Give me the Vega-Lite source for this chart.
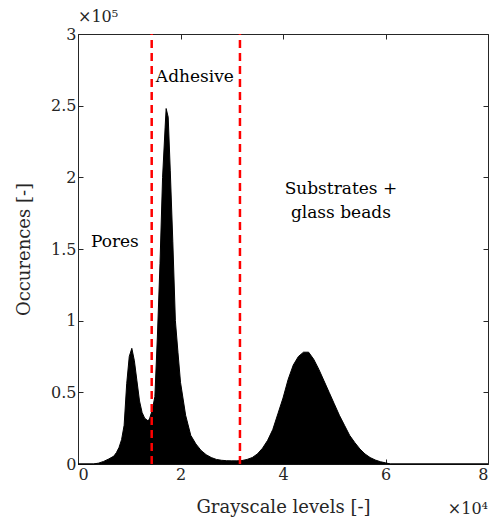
{
  "$schema": "https://vega.github.io/schema/vega-lite/v6.json",
  "width": 410,
  "height": 430,
  "autosize": "none",
  "padding": {"left": 78, "top": 34, "right": 2, "bottom": 59},
  "background": "white",
  "config": {
    "view": {"stroke": null},
    "font": "DejaVu Serif",
    "text": {"font": "DejaVu Serif"},
    "axis": {
      "grid": false,
      "domainColor": "#262626",
      "tickColor": "#262626",
      "labelColor": "#262626",
      "titleColor": "#262626",
      "labelFont": "DejaVu Serif",
      "titleFont": "DejaVu Serif",
      "labelFontSize": 16,
      "titleFontSize": 18,
      "titleFontWeight": "normal",
      "tickSize": -5,
      "labelPadding": 7
    }
  },
  "datasets": {
    "hist": [
      {"g": 0, "n": 0}, {"g": 3000, "n": 0}, {"g": 4000, "n": 600}, {"g": 5000, "n": 1800},
      {"g": 6000, "n": 3500}, {"g": 7000, "n": 5500}, {"g": 7500, "n": 8000}, {"g": 8000, "n": 11500},
      {"g": 8500, "n": 17000}, {"g": 9000, "n": 27000}, {"g": 9500, "n": 56000}, {"g": 10000, "n": 75000},
      {"g": 10500, "n": 80700}, {"g": 11000, "n": 72000}, {"g": 11500, "n": 58000}, {"g": 12000, "n": 44000},
      {"g": 12500, "n": 36000}, {"g": 13000, "n": 32000}, {"g": 13700, "n": 30000}, {"g": 14000, "n": 32000},
      {"g": 14500, "n": 38000}, {"g": 15000, "n": 47000}, {"g": 15500, "n": 90000}, {"g": 16000, "n": 140000},
      {"g": 16500, "n": 200000}, {"g": 17000, "n": 235000}, {"g": 17200, "n": 248000}, {"g": 17600, "n": 242000},
      {"g": 18000, "n": 205000}, {"g": 18500, "n": 155000}, {"g": 19000, "n": 100000}, {"g": 19500, "n": 78000},
      {"g": 20000, "n": 57000}, {"g": 21000, "n": 34000}, {"g": 22000, "n": 20000}, {"g": 23000, "n": 14000},
      {"g": 24000, "n": 9500}, {"g": 25000, "n": 6500}, {"g": 26000, "n": 4500}, {"g": 27000, "n": 3200},
      {"g": 28000, "n": 2600}, {"g": 29000, "n": 2300}, {"g": 30000, "n": 2200}, {"g": 31000, "n": 2200},
      {"g": 32000, "n": 2400}, {"g": 33000, "n": 3200}, {"g": 34000, "n": 4500}, {"g": 35000, "n": 7000},
      {"g": 36000, "n": 11000}, {"g": 37000, "n": 16500}, {"g": 38000, "n": 24000}, {"g": 39000, "n": 35000},
      {"g": 40000, "n": 46000}, {"g": 41000, "n": 59000}, {"g": 42000, "n": 69000}, {"g": 43000, "n": 75000},
      {"g": 44000, "n": 78000}, {"g": 45000, "n": 78000}, {"g": 46000, "n": 73000}, {"g": 47000, "n": 66000},
      {"g": 48000, "n": 58000}, {"g": 49000, "n": 50000}, {"g": 50000, "n": 42000}, {"g": 51000, "n": 34000},
      {"g": 52000, "n": 27000}, {"g": 53000, "n": 20000}, {"g": 54000, "n": 15000}, {"g": 55000, "n": 10500},
      {"g": 56000, "n": 7000}, {"g": 57000, "n": 4500}, {"g": 58000, "n": 2800}, {"g": 59000, "n": 1600},
      {"g": 60000, "n": 800}, {"g": 61000, "n": 0}, {"g": 80000, "n": 0}
    ],
    "limits": [
      {"g": 14380, "lo": 0, "hi": 300000},
      {"g": 31600, "lo": 0, "hi": 300000}
    ],
    "labels": [
      {"g": 22800, "n": 270000, "t": "Adhesive"},
      {"g": 7200, "n": 155000, "t": "Pores"},
      {"g": 51300, "n": 192000, "t": "Substrates +"},
      {"g": 51300, "n": 175000, "t": "glass beads"}
    ],
    "expy": [{"g": 0, "n": 300000, "t": "×10⁵"}],
    "expx": [{"g": 80000, "n": 0, "t": "×10⁴"}]
  },
  "resolve": {"axis": {"x": "independent", "y": "independent"}},
  "layer": [
    {
      "data": {"name": "hist"},
      "mark": {"type": "area", "color": "black", "stroke": "black", "strokeWidth": 1, "interpolate": "linear"},
      "encoding": {
        "x": {
          "field": "g", "type": "quantitative",
          "scale": {"domain": [0, 80000], "nice": false, "zero": false},
          "axis": {"values": [0, 20000, 40000, 60000, 80000], "labelExpr": "datum.value / 10000", "title": "Grayscale levels [-]", "titlePadding": 16}
        },
        "y": {
          "field": "n", "type": "quantitative",
          "scale": {"domain": [0, 300000], "nice": false},
          "axis": {"values": [0, 50000, 100000, 150000, 200000, 250000, 300000], "labelExpr": "datum.value / 100000", "title": "Occurences [-]", "titlePadding": 17}
        }
      }
    },
    {
      "data": {"name": "limits"},
      "mark": {"type": "rule", "color": "#ff0000", "strokeWidth": 2.5, "strokeDash": [8, 5]},
      "encoding": {
        "x": {"field": "g", "type": "quantitative", "axis": {"orient": "top", "labels": false, "title": null, "values": [0, 20000, 40000, 60000, 80000]}},
        "y": {"field": "lo", "type": "quantitative", "axis": {"orient": "right", "labels": false, "title": null, "values": [0, 50000, 100000, 150000, 200000, 250000, 300000]}},
        "y2": {"field": "hi"}
      }
    },
    {
      "data": {"name": "labels"},
      "mark": {"type": "text", "fontSize": 17, "color": "#000000", "align": "center", "baseline": "middle"},
      "encoding": {
        "x": {"field": "g", "type": "quantitative", "axis": null},
        "y": {"field": "n", "type": "quantitative", "axis": null},
        "text": {"field": "t"}
      }
    },
    {
      "data": {"name": "expy"},
      "mark": {"type": "text", "fontSize": 16, "color": "#262626", "align": "left", "baseline": "middle", "dy": -17},
      "encoding": {
        "x": {"field": "g", "type": "quantitative", "axis": null},
        "y": {"field": "n", "type": "quantitative", "axis": null},
        "text": {"field": "t"}
      }
    },
    {
      "data": {"name": "expx"},
      "mark": {"type": "text", "fontSize": 16, "color": "#262626", "align": "right", "baseline": "middle", "dy": 45},
      "encoding": {
        "x": {"field": "g", "type": "quantitative", "axis": null},
        "y": {"field": "n", "type": "quantitative", "axis": null},
        "text": {"field": "t"}
      }
    }
  ]
}
